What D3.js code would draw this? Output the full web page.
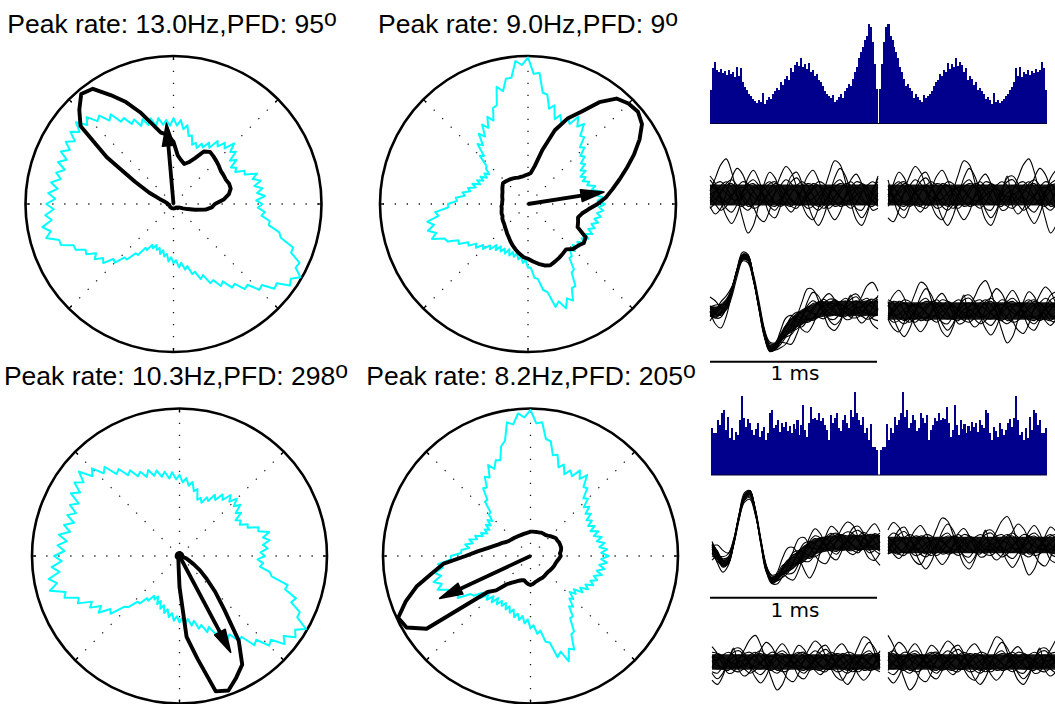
<!DOCTYPE html>
<html>
<head>
<meta charset="utf-8">
<script src="https://cdn.jsdelivr.net/npm/d3@7"></script>
<style>
  html, body { margin: 0; padding: 0; background: #fff; }
  svg { display: block; }
</style>
</head>
<body>
<svg id="fig" width="1055" height="704"></svg>
<script>
// ---------- Phase tuning (polar) data ----------
// Sampling angles, degrees (0 = east, counter-clockwise)
const baselineAngles = d3.range(0, 360, 2.5);
const conditionAngles = d3.range(0, 360, 5);

const peakRates = [13.0, 9.0, 10.3, 8.2];      // Hz
const pfdDeg = [95, 9, 298, 205];              // preferred firing direction
const vectorLength = [0.55, 0.52, 0.74, 0.68]; // mean resultant length (fraction of rim)
const spokeAngles = [0, 45, 90, 135, 180, 225, 270, 315];

// Baseline (cyan) tuning, normalised radius per angle
const cyan1 = [
  0.60,0.56,0.62,0.57,0.61,0.56,0.61,0.56,0.60,0.52,0.53,0.47,
  0.49,0.46,0.52,0.48,0.55,0.52,0.58,0.51,0.54,0.49,0.52,0.45,
  0.48,0.43,0.45,0.41,0.44,0.42,0.48,0.47,0.54,0.51,0.57,0.53,
  0.58,0.53,0.57,0.54,0.59,0.54,0.60,0.56,0.61,0.57,0.63,0.61,
  0.67,0.66,0.74,0.71,0.78,0.76,0.83,0.79,0.86,0.80,0.85,0.79,
  0.84,0.79,0.84,0.78,0.83,0.77,0.82,0.78,0.84,0.79,0.85,0.80,
  0.86,0.81,0.87,0.83,0.90,0.85,0.89,0.81,0.81,0.73,0.73,0.67,
  0.68,0.62,0.65,0.60,0.62,0.55,0.56,0.49,0.49,0.42,0.42,0.35,
  0.36,0.31,0.33,0.30,0.33,0.31,0.35,0.32,0.36,0.34,0.39,0.36,
  0.40,0.38,0.43,0.40,0.45,0.43,0.49,0.48,0.54,0.52,0.59,0.58,
  0.64,0.62,0.69,0.68,0.75,0.74,0.82,0.81,0.89,0.88,0.96,0.94,
  0.99,0.93,0.94,0.86,0.86,0.76,0.74,0.66,0.66,0.60,0.62,0.57
];
const cyan2 = [
  0.52,0.47,0.51,0.46,0.50,0.44,0.47,0.42,0.44,0.40,0.43,0.40,
  0.45,0.42,0.47,0.45,0.50,0.48,0.54,0.52,0.59,0.58,0.66,0.62,
  0.68,0.61,0.64,0.59,0.64,0.60,0.69,0.66,0.75,0.76,0.89,0.88,
  0.99,0.94,0.97,0.86,0.86,0.78,0.82,0.70,0.69,0.61,0.65,0.58,
  0.62,0.54,0.58,0.50,0.53,0.44,0.46,0.38,0.37,0.33,0.36,0.33,
  0.37,0.34,0.38,0.35,0.40,0.37,0.42,0.40,0.45,0.43,0.49,0.48,
  0.54,0.54,0.63,0.61,0.69,0.65,0.70,0.65,0.69,0.61,0.60,0.53,
  0.54,0.48,0.49,0.44,0.46,0.41,0.43,0.38,0.40,0.35,0.38,0.34,
  0.37,0.34,0.37,0.33,0.37,0.34,0.37,0.34,0.38,0.36,0.40,0.38,
  0.43,0.43,0.50,0.51,0.59,0.61,0.72,0.69,0.75,0.69,0.72,0.64,
  0.64,0.55,0.54,0.46,0.46,0.42,0.45,0.41,0.45,0.42,0.46,0.43,
  0.47,0.44,0.48,0.44,0.48,0.45,0.49,0.46,0.50,0.47,0.51,0.48
];
const cyan3 = [
  0.58,0.55,0.60,0.57,0.62,0.58,0.63,0.56,0.57,0.50,0.51,0.46,
  0.48,0.45,0.51,0.48,0.54,0.50,0.55,0.50,0.54,0.48,0.51,0.45,
  0.48,0.42,0.44,0.39,0.42,0.40,0.47,0.45,0.51,0.48,0.53,0.50,
  0.55,0.52,0.57,0.53,0.58,0.55,0.60,0.57,0.62,0.58,0.63,0.61,
  0.67,0.65,0.72,0.70,0.79,0.76,0.84,0.80,0.89,0.82,0.87,0.80,
  0.85,0.77,0.82,0.76,0.81,0.75,0.81,0.76,0.83,0.77,0.83,0.78,
  0.85,0.80,0.87,0.82,0.90,0.85,0.91,0.81,0.83,0.74,0.76,0.67,
  0.70,0.63,0.67,0.59,0.61,0.51,0.49,0.42,0.42,0.36,0.37,0.32,
  0.34,0.31,0.36,0.33,0.38,0.35,0.40,0.37,0.42,0.39,0.44,0.41,
  0.45,0.42,0.46,0.43,0.48,0.45,0.51,0.49,0.55,0.52,0.59,0.57,
  0.65,0.63,0.70,0.69,0.79,0.77,0.86,0.84,0.93,0.89,0.96,0.93,
  0.99,0.90,0.90,0.82,0.84,0.75,0.76,0.64,0.62,0.55,0.57,0.53
];
const cyan4 = [
  0.53,0.48,0.52,0.47,0.51,0.46,0.50,0.45,0.49,0.44,0.48,0.44,
  0.48,0.45,0.50,0.47,0.52,0.49,0.55,0.53,0.60,0.59,0.67,0.62,
  0.67,0.61,0.64,0.60,0.66,0.63,0.71,0.70,0.79,0.80,0.91,0.90,
  0.99,0.94,0.97,0.90,0.92,0.80,0.77,0.68,0.69,0.64,0.68,0.60,
  0.62,0.55,0.56,0.48,0.48,0.40,0.40,0.35,0.38,0.34,0.37,0.33,
  0.36,0.33,0.37,0.35,0.40,0.38,0.43,0.40,0.45,0.42,0.47,0.47,
  0.54,0.54,0.63,0.60,0.66,0.62,0.68,0.63,0.67,0.60,0.63,0.55,
  0.57,0.48,0.47,0.41,0.44,0.39,0.42,0.37,0.41,0.36,0.40,0.36,
  0.39,0.36,0.40,0.37,0.41,0.38,0.43,0.40,0.44,0.41,0.46,0.43,
  0.49,0.47,0.53,0.51,0.59,0.60,0.71,0.68,0.76,0.68,0.70,0.60,
  0.59,0.50,0.50,0.43,0.45,0.39,0.41,0.36,0.40,0.37,0.43,0.40,
  0.45,0.42,0.47,0.44,0.48,0.45,0.50,0.46,0.51,0.47,0.52,0.48
];

// Condition (black) tuning, normalised radius per angle
const black1 = [
  0.28,0.34,0.38,0.40,0.40,0.39,0.39,0.39,0.40,0.41,0.42,0.43,
  0.41,0.34,0.30,0.28,0.30,0.33,0.42,0.47,0.49,0.56,0.66,0.76,
  0.85,0.95,0.97,0.90,0.82,0.55,0.30,0.18,0.10,0.06,0.05,0.04,
  0.04,0.04,0.03,0.03,0.03,0.03,0.03,0.03,0.03,0.03,0.03,0.03,
  0.03,0.03,0.03,0.03,0.03,0.03,0.03,0.03,0.03,0.03,0.03,0.03,
  0.03,0.03,0.03,0.04,0.04,0.04,0.05,0.07,0.10,0.15,0.22,0.26
];
const black2 = [
  0.47,0.53,0.58,0.64,0.71,0.79,0.87,0.94,0.97,0.96,0.93,0.84,
  0.72,0.64,0.53,0.38,0.26,0.21,0.20,0.195,0.19,0.19,0.19,0.195,
  0.20,0.205,0.21,0.215,0.22,0.21,0.20,0.19,0.185,0.18,0.175,0.175,
  0.175,0.18,0.18,0.185,0.19,0.19,0.20,0.205,0.21,0.22,0.23,0.245,
  0.26,0.28,0.30,0.32,0.34,0.36,0.37,0.39,0.41,0.43,0.44,0.43,
  0.42,0.41,0.40,0.43,0.44,0.46,0.45,0.37,0.36,0.35,0.37,0.41
];
const black3 = [
  0.015,0.015,0.02,0.015,0.015,0.02,0.015,0.015,0.02,0.015,0.015,0.02,
  0.015,0.015,0.02,0.015,0.015,0.02,0.02,0.015,0.015,0.02,0.015,0.015,
  0.02,0.015,0.015,0.02,0.015,0.015,0.02,0.015,0.015,0.02,0.015,0.015,
  0.02,0.015,0.015,0.02,0.015,0.015,0.02,0.015,0.015,0.02,0.015,0.015,
  0.015,0.02,0.02,0.03,0.04,0.07,0.21,0.55,0.71,0.95,0.97,0.91,
  0.85,0.70,0.47,0.34,0.24,0.17,0.11,0.07,0.05,0.03,0.02,0.015
];
const black4 = [
  0.205,0.20,0.21,0.215,0.215,0.215,0.21,0.21,0.20,0.19,0.18,0.175,
  0.175,0.175,0.17,0.168,0.166,0.166,0.165,0.16,0.158,0.157,0.156,0.156,
  0.158,0.16,0.163,0.167,0.172,0.178,0.19,0.21,0.23,0.26,0.30,0.36,
  0.44,0.59,0.68,0.80,0.90,0.99,0.97,0.86,0.38,0.33,0.25,0.22,
  0.20,0.185,0.175,0.17,0.18,0.19,0.197,0.19,0.18,0.175,0.17,0.168,
  0.168,0.165,0.162,0.16,0.162,0.165,0.168,0.172,0.175,0.178,0.185,0.195
];

const baselineCurves = [cyan1, cyan2, cyan3, cyan4];
const conditionCurves = [black1, black2, black3, black4];

// ---------- Autocorrelograms (spike counts per lag bin) ----------
const acgCounts1 = [
  34,56,62,54,52,55,51,53,49,54,50,52,
  47,57,48,56,42,37,34,30,28,25,23,21,
  24,22,31,20,24,27,25,30,33,36,34,42,
  39,45,48,44,56,52,59,62,58,66,57,60,
  55,61,52,54,48,50,44,42,38,33,30,28,
  26,29,22,24,27,30,26,33,36,40,38,45,
  52,57,66,72,77,84,88,100,97,82,60,35,
  1,
  35,60,82,97,100,88,84,77,72,66,57,52,
  45,38,40,36,33,26,30,27,24,22,29,26,
  28,30,33,38,42,44,50,48,54,52,61,55,
  60,57,66,58,62,59,52,56,44,48,45,39,
  42,34,36,33,30,25,27,24,20,31,22,24,
  21,23,25,28,30,34,37,42,56,48,57,47,
  52,50,54,49,53,51,55,52,54,62,56,34
];
const acgCounts2 = [
  47,42,42,55,50,62,65,45,58,37,47,35,
  43,40,55,79,57,48,56,52,45,40,46,52,
  38,44,48,35,42,62,65,47,50,55,43,52,
  48,53,44,49,42,51,46,55,40,50,70,45,
  38,52,68,56,57,55,62,54,57,50,45,35,
  60,52,57,62,47,44,55,60,52,47,65,58,
  83,62,55,50,58,42,47,35,51,28,28,25,
  0,
  25,28,28,51,35,47,42,58,50,55,62,83,
  58,65,47,52,60,55,44,47,62,57,52,60,
  35,45,50,57,54,62,55,57,56,68,52,38,
  45,70,50,40,55,46,51,42,49,44,53,48,
  52,43,55,50,47,65,62,42,35,48,44,38,
  52,46,40,45,52,56,48,57,79,55,40,43,
  35,47,37,58,45,65,62,50,55,42,42,47
];

// ---------- Waveforms (32 samples per 1 ms window) ----------
const noiseMean = [0,0,0,0,0,0,0,0,0,0,0,0,0,0,0,0,0,0,0,0,0,0,0,0,0,0,0,0,0,0,0,0];
const spikeMeanA = [0,-1,1,6,20,40,54,53,33,5,-22,-37,-36,-28,-20,-14,-9,-6,-3,-1,1,2,2,3,2,3,2,3,2,3,2,3];
const spikeSpreadA = [10,10,9,7,5,4,4,4,4,4,4,5,6,8,10,12,13,14,14,14,14,14,14,14,14,14,14,14,14,14,14,14];
const spikeMeanB = [-3,-10,-18,-16,2,28,48,52,34,4,-24,-35,-33,-26,-22,-17,-12,-8,-5,-2,0,1,2,2,3,2,3,2,3,2,3,2];
const spikeSpreadB = [11,9,7,5,4,4,4,4,4,4,4,5,6,8,10,12,13,14,14,14,14,14,14,14,14,14,14,14,14,14,14,14];

// Individual sweep deviations around the mean, in units of the channel spread
const sweepDeviations = [
  [0.3,0.6,0.7,0.4,-0.1,-0.5,-0.6,-0.3,0.2,0.5,0.4,0.0,-0.4,-0.6,-0.4,0.1,0.5,0.7,0.5,0.0,-0.5,-0.7,-0.5,-0.1,0.3,0.6,0.5,0.1,-0.3,-0.5,-0.3,0.1],
  [-0.4,-0.2,0.2,0.6,0.8,0.5,0.0,-0.4,-0.7,-0.6,-0.2,0.3,0.6,0.5,0.1,-0.3,-0.5,-0.4,0.0,0.4,0.7,0.6,0.2,-0.3,-0.6,-0.5,-0.1,0.3,0.6,0.4,0.0,-0.3],
  [0.8,0.4,-0.2,-0.7,-0.9,-0.5,0.1,0.6,0.8,0.5,-0.1,-0.6,-0.8,-0.4,0.2,0.7,0.9,0.5,-0.1,-0.6,-0.8,-0.5,0.1,0.6,0.8,0.4,-0.2,-0.7,-0.8,-0.3,0.3,0.7],
  [-0.1,-0.5,-0.8,-0.6,-0.1,0.4,0.7,0.6,0.2,-0.2,-0.4,-0.3,0.1,0.5,0.8,0.6,0.1,-0.4,-0.7,-0.6,-0.2,0.2,0.4,0.3,-0.1,-0.5,-0.7,-0.4,0.1,0.5,0.7,0.5],
  [0.2,0.9,1.6,1.9,1.2,0.0,-1.2,-2.0,-1.6,-0.5,0.6,1.2,0.9,0.1,-0.6,-0.9,-0.5,0.3,1.0,1.3,0.8,-0.1,-0.9,-1.3,-0.9,0.0,0.8,1.1,0.6,-0.2,-0.8,-0.7],
  [0.0,0.2,0.3,0.1,-0.2,-0.3,-0.1,0.2,0.4,0.3,0.0,-0.3,-0.4,-0.2,0.1,0.3,0.2,-0.1,-0.3,-0.2,0.1,0.3,0.4,0.2,-0.1,-0.3,-0.3,0.0,0.2,0.3,0.1,-0.1],
  [-0.6,-1.0,-0.7,0.1,0.9,1.4,1.1,0.3,-0.6,-1.2,-1.4,-0.8,0.2,1.0,1.5,1.2,0.4,-0.5,-1.1,-1.3,-0.7,0.2,1.1,1.8,1.6,0.7,-0.4,-1.3,-1.6,-1.0,0.1,1.0],
  [0.5,0.3,-0.1,-0.4,-0.5,-0.2,0.2,0.5,0.6,0.3,-0.2,-0.5,-0.6,-0.3,0.1,0.4,0.5,0.3,-0.1,-0.4,-0.6,-0.4,0.0,0.4,0.6,0.5,0.1,-0.3,-0.5,-0.4,0.0,0.4],
  [-0.7,-0.4,0.1,0.5,0.6,0.3,-0.2,-0.6,-0.5,-0.1,0.3,0.6,0.7,0.3,-0.2,-0.6,-0.7,-0.3,0.2,0.6,0.5,0.1,-0.3,-0.6,-0.5,-0.1,0.4,0.7,0.6,0.2,-0.3,-0.6],
  [0.1,-0.2,-0.4,-0.3,0.0,0.3,0.4,0.2,-0.1,-0.3,-0.2,0.1,0.4,0.5,0.2,-0.2,-0.5,-0.5,-0.1,0.3,0.5,0.3,-0.1,-0.4,-0.4,-0.1,0.2,0.4,0.3,0.0,-0.3,-0.4],
  [1.0,0.6,-0.3,-1.1,-1.5,-1.0,0.0,0.9,1.3,0.8,-0.2,-1.0,-1.2,-0.6,0.3,1.0,1.2,0.6,-0.4,-1.2,-1.6,-1.1,-0.1,0.9,1.4,1.0,0.1,-0.8,-1.2,-0.8,0.1,0.9],
  [-0.3,0.1,0.5,0.7,0.4,-0.1,-0.6,-0.8,-0.5,0.0,0.5,0.7,0.4,-0.1,-0.5,-0.6,-0.2,0.3,0.6,0.5,0.0,-0.5,-0.7,-0.4,0.1,0.5,0.7,0.4,-0.1,-0.5,-0.6,-0.2]
];

// ---------- Layout ----------
const polarLayout = [
  { cx: 173.5, cy: 204, R: 148, tx: 172, ty: 33 },
  { cx: 528,   cy: 204, R: 148, tx: 528, ty: 33 },
  { cx: 179.5, cy: 556, R: 147.5, tx: 176, ty: 385 },
  { cx: 530.5, cy: 556, R: 147.5, tx: 531, ty: 385 }
];
const acgLayout = [
  { counts: acgCounts1, x0: 710, x1: 1047, base: 123.5 },
  { counts: acgCounts2, x0: 711, x1: 1047, base: 475 }
];
const waveLayout = [
  { x0: 710, cy: 195, mean: noiseMean, spread: 19, shift: 0 },
  { x0: 888, cy: 195, mean: noiseMean, spread: 19, shift: 9 },
  { x0: 710, cy: 311, mean: spikeMeanA, spread: spikeSpreadA, shift: 5 },
  { x0: 888, cy: 311, mean: noiseMean, spread: 16, shift: 17 },
  { x0: 712, cy: 545, mean: spikeMeanB, spread: spikeSpreadB, shift: 21 },
  { x0: 888, cy: 545, mean: noiseMean, spread: 15, shift: 13 },
  { x0: 712, cy: 662, mean: noiseMean, spread: 14, shift: 27 },
  { x0: 888, cy: 662, mean: noiseMean, spread: 14, shift: 3 }
];
const scaleBars = [
  { x0: 710, x1: 877, y: 361.7, label: "1 ms", ly: 380 },
  { x0: 710, x1: 877, y: 597.7, label: "1 ms", ly: 617 }
];

const svg = d3.select("#fig");
const toRad = d => d * Math.PI / 180;

// ---------- Polar tuning plots ----------
polarLayout.forEach((p, idx) => {
  const g = svg.append("g").attr("transform", `translate(${p.cx},${p.cy})`);
  const r = d3.scaleLinear([0, 1], [0, p.R]);

  // dotted spokes and rim ticks
  spokeAngles.forEach(a => {
    const c = Math.cos(toRad(a)), s = -Math.sin(toRad(a));
    g.append("line")
      .attr("x1", 0).attr("y1", 0)
      .attr("x2", r(1) * c).attr("y2", r(1) * s)
      .attr("stroke", "#1a1a1a").attr("stroke-width", 1.3)
      .attr("stroke-dasharray", "1.3 10.7");
    g.append("line")
      .attr("x1", r(1) * c).attr("y1", r(1) * s)
      .attr("x2", (r(1) - 4) * c).attr("y2", (r(1) - 4) * s)
      .attr("stroke", "#000").attr("stroke-width", 1.3);
  });

  g.append("circle").attr("r", r(1))
    .attr("fill", "none").attr("stroke", "#000").attr("stroke-width", 2.6);

  const radialFor = angles => d3.lineRadial()
    .angle((d, i) => toRad(90 - angles[i]))
    .radius(d => r(d))
    .curve(d3.curveLinearClosed);

  g.append("path").datum(baselineCurves[idx]).attr("d", radialFor(baselineAngles))
    .attr("fill", "none").attr("stroke", "#00ffff").attr("stroke-width", 2)
    .attr("stroke-linejoin", "round");

  g.append("path").datum(conditionCurves[idx]).attr("d", radialFor(conditionAngles))
    .attr("fill", "none").attr("stroke", "#000").attr("stroke-width", 3.9)
    .attr("stroke-linejoin", "round");

  // preferred-direction vector
  const a = toRad(pfdDeg[idx]);
  const ux = Math.cos(a), uy = -Math.sin(a);
  const L = r(vectorLength[idx]);
  const headLen = 23, headW = 6;
  const bx = (L - headLen) * ux, by = (L - headLen) * uy;
  g.append("line").attr("x1", 0).attr("y1", 0).attr("x2", bx).attr("y2", by)
    .attr("stroke", "#000").attr("stroke-width", 3.8);
  g.append("path")
    .attr("d", `M${L * ux},${L * uy}L${bx - headW * uy},${by + headW * ux}L${bx + headW * uy},${by - headW * ux}Z`)
    .attr("fill", "#000").attr("stroke", "#000").attr("stroke-width", 1.5)
    .attr("stroke-linejoin", "round");

  const t = svg.append("text")
    .attr("x", p.tx).attr("y", p.ty)
    .attr("text-anchor", "middle")
    .attr("font-family", "'Liberation Sans', Arial, Helvetica, sans-serif")
    .attr("font-size", 26.5).attr("fill", "#000");
  t.append("tspan").text(`Peak rate: ${peakRates[idx].toFixed(1)}Hz,PFD: ${pfdDeg[idx]}`);
  t.append("tspan").attr("font-size", 23).attr("dy", -7).text("o");
});

// ---------- Autocorrelograms ----------
acgLayout.forEach(h => {
  const x = d3.scaleBand(d3.range(h.counts.length), [h.x0, h.x1]).padding(0);
  const y = d3.scaleLinear([0, 100], [h.base, h.base - 100]);
  const g = svg.append("g");
  g.selectAll("rect").data(h.counts).join("rect")
    .attr("x", (d, i) => x(i)).attr("width", x.bandwidth() + 0.05)
    .attr("y", d => y(d)).attr("height", d => y(0) - y(d))
    .attr("fill", "#00008c").attr("shape-rendering", "crispEdges");
  g.append("line").attr("x1", h.x0).attr("x2", h.x1)
    .attr("y1", h.base).attr("y2", h.base)
    .attr("stroke", "#000033").attr("stroke-width", 1);
});

// ---------- Waveform overlays ----------
waveLayout.forEach(p => {
  const n = p.mean.length;
  const x = d3.scaleLinear([0, n - 1], [p.x0, p.x0 + 168]);
  const y = d3.scaleLinear([-60, 60], [p.cy + 60, p.cy - 60]);
  const sp = i => Array.isArray(p.spread) ? p.spread[i] : p.spread;
  const g = svg.append("g");

  const core = d3.area()
    .x((d, i) => x(i))
    .y0((d, i) => y(d - 0.55 * sp(i)))
    .y1((d, i) => y(d + 0.55 * sp(i)))
    .curve(d3.curveCatmullRom);
  g.append("path").datum(p.mean).attr("d", core).attr("fill", "#000").attr("fill-opacity", 0.92);

  sweepDeviations.forEach(row => {
    const sweep = d3.line()
      .x((d, i) => x(i))
      .y((d, i) => y(d + sp(i) * row[(i + p.shift) % row.length]))
      .curve(d3.curveCatmullRom);
    g.append("path").datum(p.mean).attr("d", sweep)
      .attr("fill", "none").attr("stroke", "#000").attr("stroke-width", 1.1);
  });
});

// ---------- Time scale bars ----------
scaleBars.forEach(b => {
  svg.append("line").attr("x1", b.x0).attr("x2", b.x1).attr("y1", b.y).attr("y2", b.y)
    .attr("stroke", "#000").attr("stroke-width", 2);
  svg.append("text").attr("x", (b.x0 + b.x1) / 2 + 1.5).attr("y", b.ly)
    .attr("text-anchor", "middle")
    .attr("font-family", "'DejaVu Sans', sans-serif")
    .attr("font-size", 20).attr("fill", "#000")
    .text(b.label);
});
</script>
</body>
</html>
